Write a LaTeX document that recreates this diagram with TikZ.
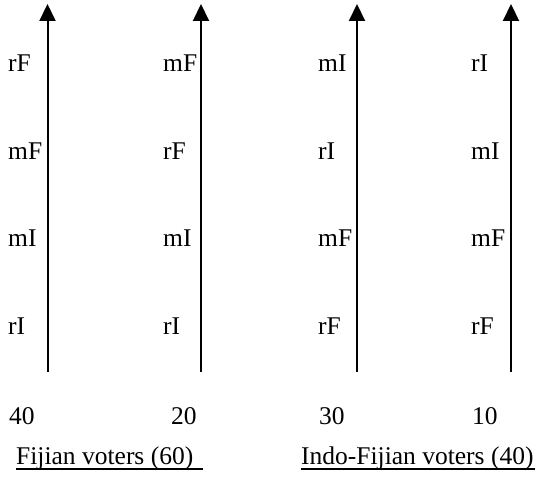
\documentclass[tikz,border=0pt]{standalone}
\usepackage{fontspec}
\setmainfont{Liberation Serif}
\usetikzlibrary{arrows.meta}
\tikzset{
  axis/.style={line width=2bp,-{Triangle[width=16bp,length=17bp]}},
  lbl/.style={inner sep=0pt,anchor=base west,font=\fontsize{25.5bp}{30bp}\selectfont},
  uline/.style={line width=1.3bp}
}
\begin{document}
\begin{tikzpicture}[x=1bp,y=1bp]
\useasboundingbox (0,0) rectangle (535,477);
% axes
\foreach \i/\x in {1/47.5,2/201,3/357,4/511}{
  \coordinate (b\i) at (\x,105);
  \coordinate (t\i) at (\x,473);
  \draw[axis] (b\i) -- (t\i);
}
% column 1
\node[lbl] (c1r1) at (8,405) {rF};
\node[lbl] (c1r2) at (8,317) {mF};
\node[lbl] (c1r3) at (8,230) {mI};
\node[lbl] (c1r4) at (8,142) {rI};
% column 2
\node[lbl] (c2r1) at (163,405) {mF};
\node[lbl] (c2r2) at (163,317) {rF};
\node[lbl] (c2r3) at (163,230) {mI};
\node[lbl] (c2r4) at (163,142) {rI};
% column 3
\node[lbl] (c3r1) at (318,405) {mI};
\node[lbl] (c3r2) at (318,317) {rI};
\node[lbl] (c3r3) at (318,230) {mF};
\node[lbl] (c3r4) at (318,142) {rF};
% column 4
\node[lbl] (c4r1) at (471,405) {rI};
\node[lbl] (c4r2) at (471,317) {mI};
\node[lbl] (c4r3) at (471,230) {mF};
\node[lbl] (c4r4) at (471,142) {rF};
% counts
\node[lbl] (n1) at (9,52) {40};
\node[lbl] (n2) at (171,52) {20};
\node[lbl] (n3) at (319,52) {30};
\node[lbl] (n4) at (472,52) {10};
% captions
\node[lbl] (cap1) at (16,12) {Fijian voters (60)};
\node[lbl] (cap2) at (301,12) {Indo-Fijian voters (40)};
\draw[uline] ([yshift=-4bp]cap1.base west) -- ++(187,0);
\draw[uline] ([yshift=-4bp]cap2.base west) -- ++(234,0);
\end{tikzpicture}
\end{document}
